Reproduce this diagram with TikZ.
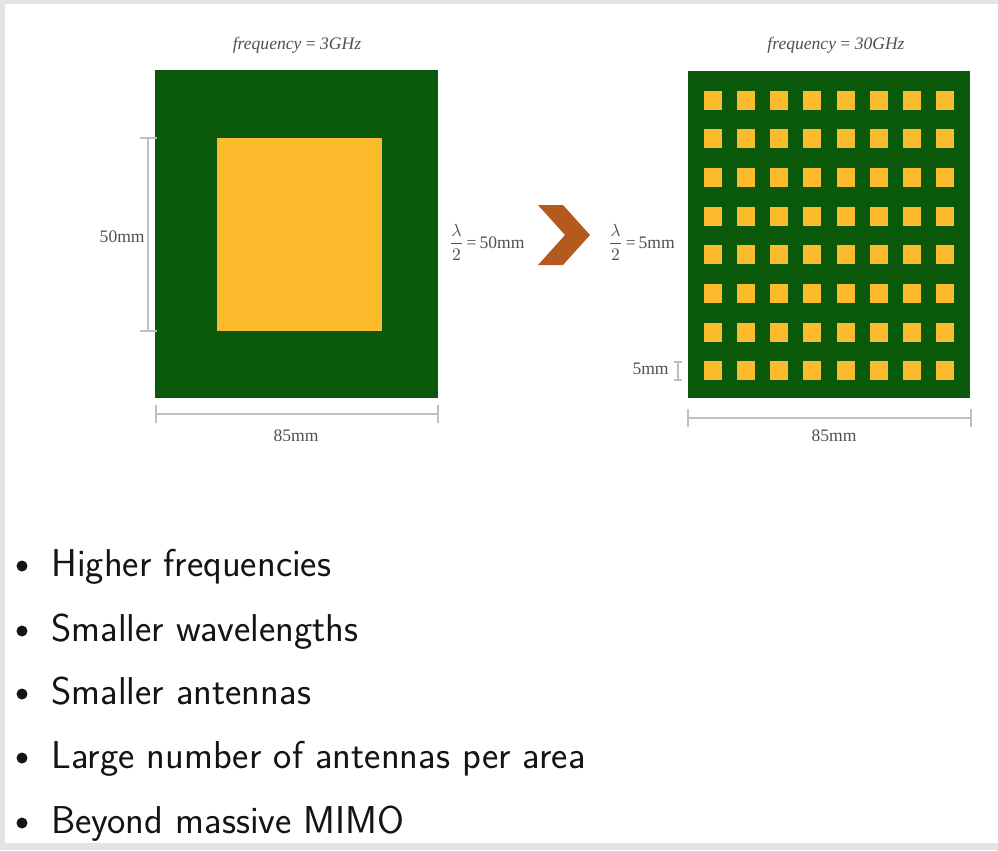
\documentclass[tikz,border=0pt]{standalone}
\usepackage{fontspec}
\setmainfont{Liberation Serif}
\definecolor{pcbgreen}{RGB}{10,88,10}
\definecolor{patch}{RGB}{252,187,45}
\definecolor{chev}{RGB}{180,90,30}
\definecolor{framegray}{RGB}{228,228,228}
\definecolor{dimgray}{RGB}{190,190,195}
\definecolor{txtgray}{RGB}{80,80,80}
\definecolor{bultxt}{RGB}{20,20,20}
\begin{document}
\begin{tikzpicture}[x=0.02cm,y=-0.02cm,
  dimline/.style={draw=dimgray,line width=0.6pt},
  smalltxt/.style={text=txtgray,font=\fontsize{10}{12}\selectfont,inner sep=0},
  bullettext/.style={text=bultxt,font=\sffamily\fontsize{22.1}{26}\selectfont,inner sep=0,anchor=base west},
  bulletdot/.style={circle,fill=bultxt,inner sep=0,minimum size=0.22cm}]
\useasboundingbox (0,0) rectangle (998,850);
% frame
\fill[framegray] (0,0) rectangle (998,850);
\fill[white] (5,4) rectangle (998,843);

% left board
\fill[pcbgreen] (155,70) rectangle (438,398);
\fill[patch] (217,138) rectangle (382,331);

% titles
\node[smalltxt] (f1) at (297,45) {\textit{frequency} = \textit{3GHz}};
\node[smalltxt] (f2) at (836,45) {\textit{frequency} = \textit{30GHz}};

% 50mm dimension
\coordinate (d50t) at (148,138);
\coordinate (d50b) at (148,331);
\draw[dimline] (d50t) -- (d50b);
\draw[dimline] (140,138) -- (157,138);
\draw[dimline] (140,331) -- (157,331);
\node[smalltxt,anchor=east] (t50) at (145,237) {50mm};

% 85mm left
\coordinate (d85l) at (156,414);
\coordinate (d85r) at (438,414);
\draw[dimline] (d85l) -- (d85r);
\draw[dimline] (156,405) -- (156,423);
\draw[dimline] (438,405) -- (438,423);
\node[smalltxt] (t85a) at (296,436) {85mm};

% lambda labels
\node[smalltxt,anchor=west] (lam1) at (449,242) {$\displaystyle\frac{\lambda}{2}$\,=\,50mm};
\node[smalltxt,anchor=west] (lam2) at (608,242) {$\displaystyle\frac{\lambda}{2}$\,=\,5mm};

% chevron
\fill[chev] (538,205) -- (563,205) -- (590,235) -- (563,265) -- (538,265) -- (565,235) -- cycle;

% right board
\fill[pcbgreen] (688,71) rectangle (970,398);
\foreach \i in {0,...,7}
  \foreach \j in {0,...,7}
    \fill[patch] ({713+33.14*\i-9},{100+38.7*\j-9.5}) rectangle ++(18,19);

% 5mm dimension
\coordinate (d5t) at (678,362);
\coordinate (d5b) at (678,380);
\draw[dimline] (d5t) -- (d5b);
\draw[dimline] (674,362) -- (682,362);
\draw[dimline] (674,380) -- (682,380);
\node[smalltxt,anchor=east] (t5) at (669,369) {5mm};

% 85mm right
\coordinate (e85l) at (688,418);
\coordinate (e85r) at (971,418);
\draw[dimline] (e85l) -- (e85r);
\draw[dimline] (688,409) -- (688,427);
\draw[dimline] (971,409) -- (971,427);
\node[smalltxt] (t85b) at (834,436) {85mm};

% bullets
\node[bulletdot] (b1) at (22,566) {};
\node[bulletdot] (b2) at (22,631) {};
\node[bulletdot] (b3) at (22,694) {};
\node[bulletdot] (b4) at (22,758) {};
\node[bulletdot] (b5) at (22,823) {};
\node[bullettext] (l1) at (51,576) {Higher frequencies};
\node[bullettext] (l2) at (51,641) {Smaller wavelengths};
\node[bullettext] (l3) at (51,704) {Smaller antennas};
\node[bullettext] (l4) at (51,768) {Large number of antennas per area};
\node[bullettext] (l5) at (51,833) {Beyond massive MIMO};
\end{tikzpicture}
\end{document}
